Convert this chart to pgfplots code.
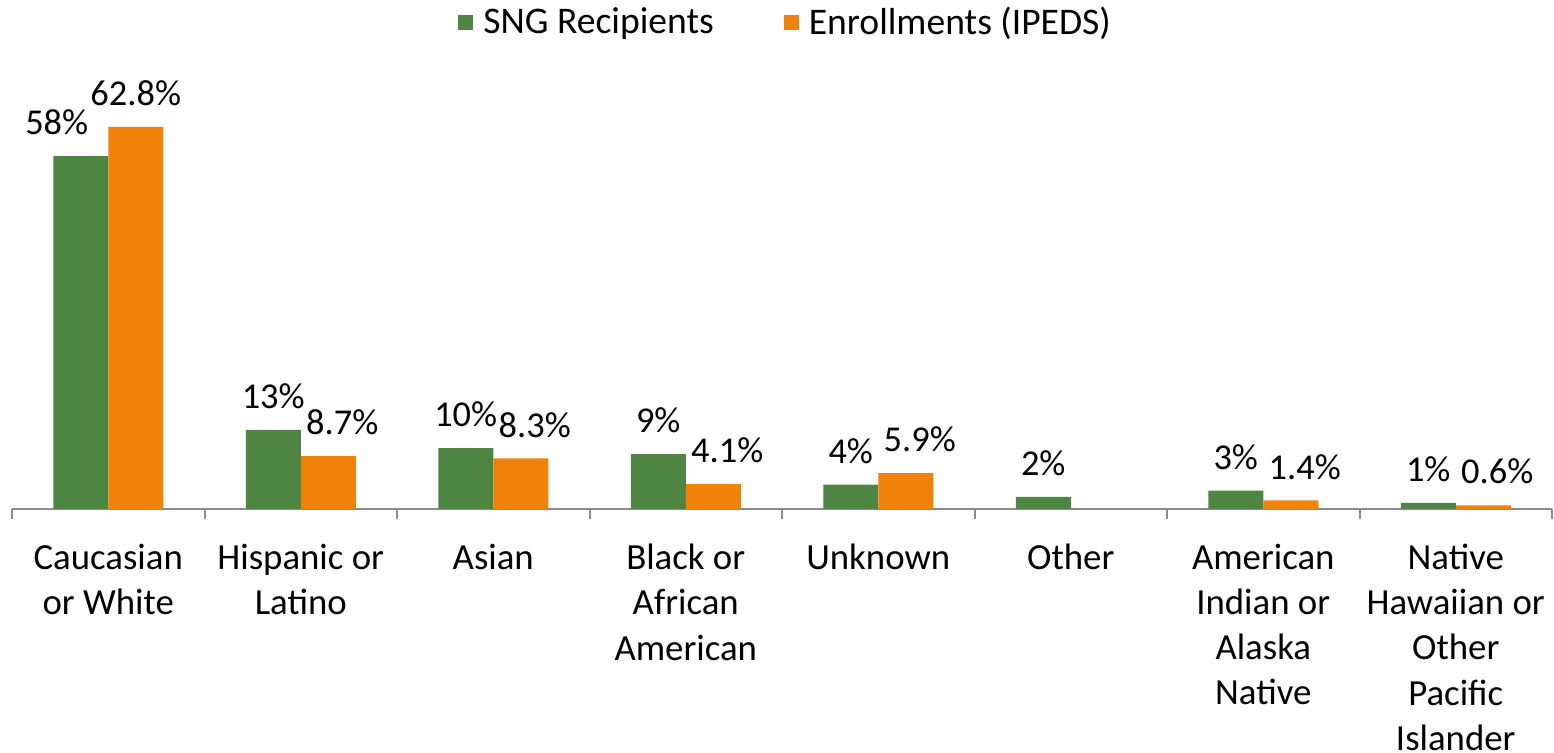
\documentclass[border=0pt]{standalone}
\usepackage{pgfplots}
\pgfplotsset{compat=1.18}
\usepackage{pgfplotstable}
\usepackage{fontspec}
\setmainfont{Carlito}
\definecolor{sng}{HTML}{4E8542}
\definecolor{ipe}{HTML}{F0820A}
\definecolor{axgray}{HTML}{8C8C8C}
\pgfplotstableread{
x y dx
0 58 -12
1 13 0
2 10 0
3 9 0
4 4 0
5 2 0
6 3 0
7 1 0
}\sngdata
\pgfplotstableread{
x y dx
0 62.8 0
1 8.7 7
2 8.3 7
3 4.1 7
4 5.9 7
6 1.4 7
7 0.6 7
}\ipedsdata
\begin{document}
\begin{tikzpicture}[x=1pt,y=1pt]
\path[use as bounding box] (-6,-122) rectangle (771,254.5);
\begin{axis}[
  at={(0,0)}, anchor=south west,
  scale only axis, width=770pt, height=213pt,
  xmin=-0.5, xmax=7.5, ymin=0, ymax=70,
  clip=false,
  ybar, bar width=27.5pt,
  axis x line*=bottom, axis y line=none,
  x axis line style={draw=axgray, line width=1pt},
  xtick={0,...,7},
  xticklabels={{Caucasian\\or White},{Hispanic or\\Latino},{Asian},{Black or\\African\\American},{Unknown},{Other},{American\\Indian or\\Alaska\\Native},{Native\\Hawaiian or\\Other\\Pacific\\Islander}},
  major x tick style={draw=none},
  minor xtick={-0.5,0.5,...,7.5},
  minor x tick style={draw=axgray, line width=1pt},
  minor tick length=5pt,
  major tick length=5pt,
  tick align=outside,
  xticklabel style={align=center, font=\fontsize{18.4}{22.6}\selectfont, yshift=-9pt},
  nodes near coords={\pgfmathprintnumber[assume math mode=true]{\pgfplotspointmeta}\%},
  nodes near coords style={font=\fontsize{18.2}{22}\selectfont, anchor=south, yshift=7pt, xshift=\dx pt},
  visualization depends on={\thisrow{dx} \as \dx},
  legend style={at={(0.503,1.143)}, anchor=center, draw=none, fill=none,
    font=\fontsize{18.8}{22}\selectfont, legend columns=2,
    /tikz/every odd column/.append style={column sep=3pt},
    /tikz/every even column/.append style={column sep=33pt}},
  legend image code/.code={\fill[#1] (0pt,-3.75pt) rectangle (7.5pt,3.75pt);},
]
\addplot[fill=sng, draw=none, bar shift=-13.75pt] table[x=x,y=y] {\sngdata};
\addplot[fill=ipe, draw=none, bar shift=13.75pt] table[x=x,y=y] {\ipedsdata};
\legend{SNG Recipients, Enrollments (IPEDS)}
\end{axis}
\end{tikzpicture}
\end{document}
